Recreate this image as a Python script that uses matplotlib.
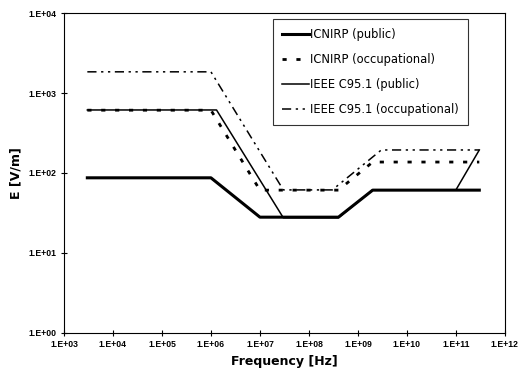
import matplotlib
matplotlib.use("Agg")
import matplotlib.pyplot as plt
from matplotlib.ticker import FixedLocator, FuncFormatter, NullLocator

# Data (frequency in Hz, field strength in V/m)
icnirp_pub_f = [3e3, 1e6, 1e7, 4e8, 2e9, 3e11]
icnirp_pub_e = [87, 87, 28, 28, 61, 61]

icnirp_occ_f = [3e3, 1e6, 1e7, 4e8, 2e9, 3e11]
icnirp_occ_e = [610, 610, 61, 61, 137, 137]

ieee_pub_f = [3e3, 1.3e6, 3e7, 4e8, 2e9, 1e11, 3e11]
ieee_pub_e = [614, 614, 27.5, 27.5, 61.4, 61.4, 194]

ieee_occ_f = [3e3, 1e6, 3e7, 3e8, 3e9, 3e11]
ieee_occ_e = [1842, 1842, 61.4, 61.4, 194, 194]

labels = ["ICNIRP (public)", "ICNIRP (occupational)",
          "IEEE C95.1 (public)", "IEEE C95.1 (occupational)"]

x_ticks = [1e3, 1e4, 1e5, 1e6, 1e7, 1e8, 1e9, 1e10, 1e11, 1e12]
y_ticks = [1e0, 1e1, 1e2, 1e3, 1e4]

fig = plt.figure(figsize=(5.2, 3.74), dpi=100)
ax = fig.add_axes([0.123, 0.110, 0.848, 0.855])

ax.plot(icnirp_pub_f, icnirp_pub_e, color="black", lw=2.2, ls="-", label=labels[0])
ax.plot(icnirp_occ_f, icnirp_occ_e, color="black", lw=2.0, ls=(0, (1.5, 3.5)), label=labels[1])
ax.plot(ieee_pub_f, ieee_pub_e, color="black", lw=1.1, ls="-", label=labels[2])
ax.plot(ieee_occ_f, ieee_occ_e, color="black", lw=1.1, ls=(0, (6, 3, 1.5, 3, 1.5, 3)), label=labels[3])

ax.set_xscale("log")
ax.set_yscale("log")
ax.set_xlim(1e3, 1e12)
ax.set_ylim(1e0, 1e4)

def fmt(v, pos):
    import math
    e = int(round(math.log10(v)))
    return "1.E+%02d" % e

ax.xaxis.set_major_locator(FixedLocator(x_ticks))
ax.yaxis.set_major_locator(FixedLocator(y_ticks))
ax.xaxis.set_minor_locator(NullLocator())
ax.yaxis.set_minor_locator(NullLocator())
ax.xaxis.set_major_formatter(FuncFormatter(fmt))
ax.yaxis.set_major_formatter(FuncFormatter(fmt))
ax.tick_params(axis="both", which="major", direction="inout", length=5, width=0.8,
               labelsize=6.2, pad=3)
for lab in ax.get_xticklabels() + ax.get_yticklabels():
    lab.set_fontfamily("Liberation Sans")
    lab.set_fontweight("bold")

for s in ax.spines.values():
    s.set_linewidth(0.8)

ax.set_xlabel("Frequency [Hz]", fontsize=9, fontweight="bold", labelpad=4)
ax.set_ylabel("E [V/m]", fontsize=9, fontweight="bold", labelpad=4)

leg = ax.legend(loc="upper right", bbox_to_anchor=(0.916, 0.98), fontsize=8.3,
                frameon=True, fancybox=False, edgecolor="black",
                handlelength=2.4, handletextpad=0.1, labelspacing=1.05,
                borderpad=0.75, borderaxespad=0)
leg.get_frame().set_linewidth(0.8)
for t in leg.get_texts():
    t.set_fontfamily("DejaVu Sans")

fig.savefig("out.png", dpi=100)
